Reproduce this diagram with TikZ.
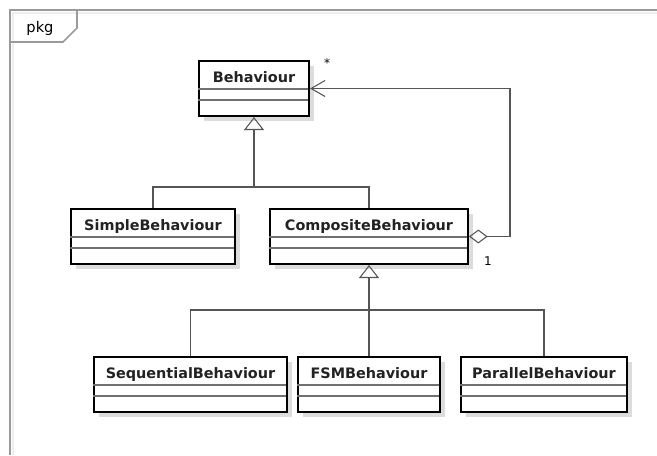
\documentclass[tikz,border=0pt]{standalone}
\usepackage{fontspec}
\setmainfont{DejaVu Sans}
\usetikzlibrary{arrows.meta}

\definecolor{edgegray}{HTML}{555555}
\definecolor{framegray}{HTML}{9A9A9A}
\definecolor{shadowgray}{HTML}{DCDCDC}
\definecolor{sepgray}{HTML}{707070}
\definecolor{frameshade}{HTML}{EEEEEE}
\definecolor{titleink}{HTML}{222222}

\tikzset{
  clsbox/.style={draw=black, line width=1.5pt, fill=white, inner sep=0pt,
                 minimum height=41.25pt, anchor=north west},
  clsshadow/.style={fill=shadowgray},
  clssep/.style={draw=sepgray, line width=0.8pt},
  clstitle/.style={font=\bfseries\fontsize{10.8}{13}\selectfont, text=titleink,
                   anchor=base, inner sep=0pt},
  link/.style={draw=edgegray, line width=0.8pt},
  gen/.style={link, -{Triangle[open, length=9.75pt, width=15pt, line width=0.8pt]}},
  agg/.style={link, {Diamond[open, length=14pt, width=10.5pt, line width=0.8pt]}-{Straight Barb[length=10.5pt, width=12pt, line width=0.8pt]}},
  mult/.style={font=\fontsize{9}{11}\selectfont, inner sep=0pt},
  pkgframe/.style={draw=framegray, line width=1.2pt},
}

% class box: node name, left, top, width, class name
\newcommand\classbox[5]{%
  \fill[clsshadow] (#2+6,#3+6) rectangle ++(#4,55);
  \node[clsbox, minimum width=#4*0.75pt] (#1) at (#2,#3) {};
  \draw[clssep] (#1.north west) ++(0,29) -- ++(#4,0);
  \draw[clssep] (#1.north west) ++(0,40) -- ++(#4,0);
  \path (#1.north) ++(0,22) node[clstitle] {#5};
}

\begin{document}
\begin{tikzpicture}[x=0.75pt, y=-0.75pt]
  \useasboundingbox (0,0) rectangle (657,455);

  % package frame with its name tab
  \draw[draw=frameshade, line width=2pt] (657,13) -- (13,13) -- (13,455);
  \draw[pkgframe] (657,10) -- (10,10) -- (10,455);
  \draw[pkgframe] (10,42) -- (63,42) -- (77,28) -- (77,10);
  \node[font=\fontsize{11}{13}\selectfont, anchor=base, inner sep=0pt] (pkg) at (40,32) {pkg};

  % classes
  \classbox{beh}{198}{60}{110}{Behaviour}
  \classbox{simple}{70}{208}{164}{SimpleBehaviour}
  \classbox{comp}{269}{208}{198}{CompositeBehaviour}
  \classbox{seq}{93}{356}{193}{SequentialBehaviour}
  \classbox{fsm}{297}{356}{142}{FSMBehaviour}
  \classbox{par}{460}{356}{166}{ParallelBehaviour}

  % generalisations
  \coordinate (y1) at (0,187);
  \coordinate (j1) at (beh.south |- y1);
  \draw[link] (simple.north) |- (j1) -| (comp.north);
  \draw[gen] (j1) -- (beh.south);
  \coordinate (y2) at (0,310);
  \coordinate (j2) at (fsm.north |- y2);
  \draw[link] (seq.north) |- (j2) -| (par.north);
  \draw[gen] (fsm.north) -- (comp.south);

  % aggregation of children
  \draw[agg] (comp.east) -- ++(41,0) |- (beh.east);
  \node[mult] (many) at (327,63) {*};
  \node[mult] (one) at (488,261) {1};
\end{tikzpicture}
\end{document}
